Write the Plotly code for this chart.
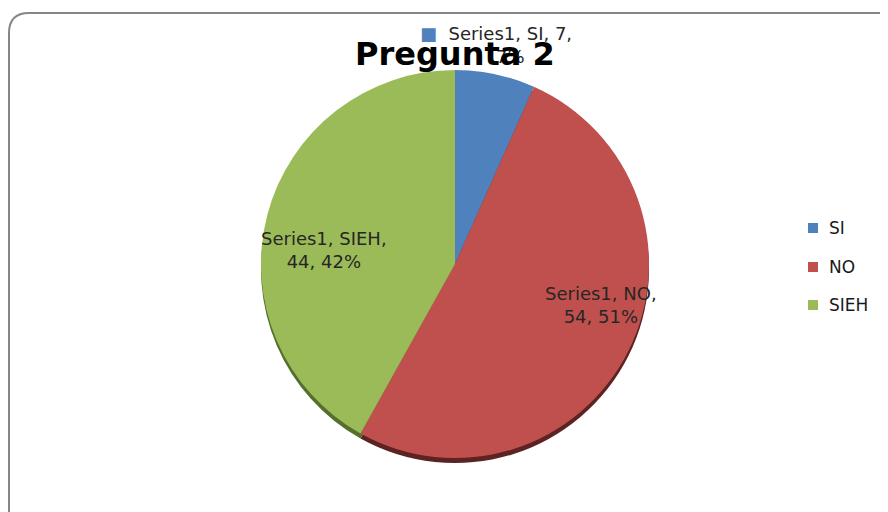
import plotly.graph_objects as go

# ---- data ----
series_name = "Series1"
categories = ["SI", "NO", "SIEH"]
values = [7, 54, 44]
colors = ["#4F81BD", "#C0504D", "#9BBB59"]
edge_colors = ["#2E4C70", "#5C2322", "#55702C"]
title_text = "Pregunta 2"

total = sum(values)
pcts = [round(v * 100 / total) for v in values]

# page body has an 8px margin; figure sized to fit the 888x512 window
OFF = 8
W, H = 888 - OFF, 512 - OFF
FONT = "DejaVu Sans, Verdana, sans-serif"


def px(x, y):
    """screen pixel -> paper coords"""
    return (x - OFF) / W, 1 - (y - OFF) / H


def dom(cx, cy, r):
    x0, y1 = px(cx - r, cy - r)
    x1, y0 = px(cx + r, cy + r)
    return dict(x=[x0, x1], y=[y0, y1])


fig = go.Figure()
cx, cy, r = 455, 264, 194

# 3D rim (same data, darker, slightly lower)
fig.add_trace(go.Pie(
    labels=categories, values=values, sort=False, direction="clockwise", rotation=0,
    marker=dict(colors=edge_colors, line=dict(width=0)),
    textinfo="none", hoverinfo="skip", showlegend=False,
    domain=dom(cx, cy + 5, r),
))
fig.add_trace(go.Pie(
    labels=categories, values=values, sort=False, direction="clockwise", rotation=0,
    marker=dict(colors=colors, line=dict(width=0)),
    textinfo="none", hoverinfo="label+value+percent", showlegend=False,
    domain=dom(cx, cy, r),
))

ann = []
label_pos = {"SI": (496, 45), "NO": (601, 305), "SIEH": (324, 250)}
for cat, v, p, c in zip(categories, values, pcts, colors):
    x, y = px(*label_pos[cat])
    if cat == "SI":
        txt = f"<span style='color:{c}'>■</span>  {series_name}, {cat}, {v},<br>     {p}%"
    else:
        txt = f"{series_name}, {cat},<br>{v}, {p}%"
    ann.append(dict(
        x=x, y=y, xref="paper", yref="paper", showarrow=False, text=txt,
        font=dict(family=FONT, size=18, color="#262626"),
        align="center", xanchor="center", yanchor="middle",
    ))

# title (on top of SI label as in reference)
tx, ty = px(455, 54)
ann.append(dict(x=tx, y=ty, xref="paper", yref="paper", showarrow=False,
                text=f"<b>{title_text}</b>",
                font=dict(family=FONT, size=32, color="#000000"),
                xanchor="center", yanchor="middle"))

# custom legend
leg_y = [228, 267, 305]
shapes = []
for cat, c, ly in zip(categories, colors, leg_y):
    a0, b0 = px(808, ly + 5)
    a1, b1 = px(818, ly - 5)
    shapes.append(dict(type="rect", xref="paper", yref="paper",
                       x0=a0, x1=a1, y0=b0, y1=b1, fillcolor=c, line=dict(width=0)))
    lx, lyy = px(827, ly)
    ann.append(dict(x=lx, y=lyy, xref="paper", yref="paper", showarrow=False,
                    text=cat, font=dict(family=FONT, size=17, color="#1a1a1a"),
                    xanchor="left", yanchor="middle"))

# rounded chart-area border (left + top edges visible)
bx, by, rad = 9, 13, 20
lx0, _ = px(bx, 0)
lxr, _ = px(bx + rad, 0)
_, ty0 = px(0, by)
_, tyr = px(0, by + rad)
path = (f"M {lx0},-0.2 L {lx0},{tyr} Q {lx0},{ty0} {lxr},{ty0} L 1.2,{ty0}")
shapes.append(dict(type="path", xref="paper", yref="paper", path=path,
                   line=dict(color="#868686", width=2)))

fig.update_layout(
    width=W, height=H,
    margin=dict(l=0, r=0, t=0, b=0),
    paper_bgcolor="white", plot_bgcolor="white",
    annotations=ann, shapes=shapes,
)
fig.write_html("out.html")
